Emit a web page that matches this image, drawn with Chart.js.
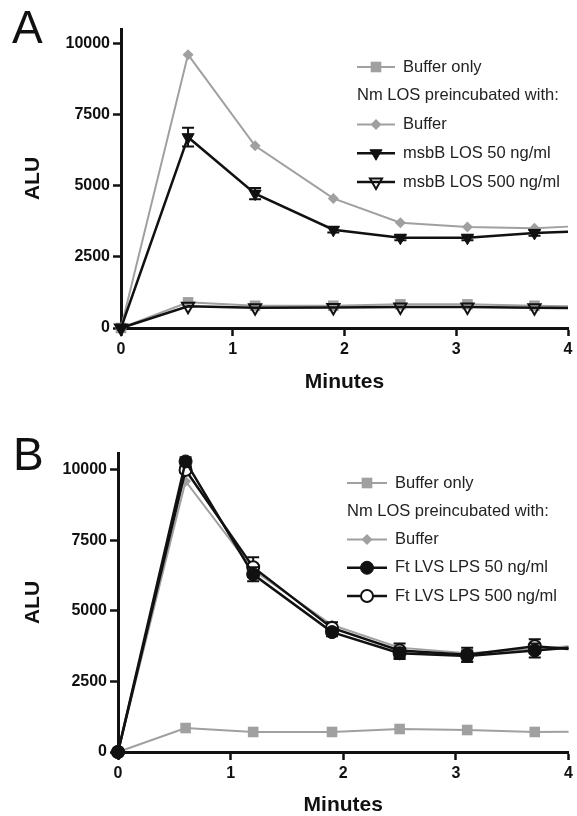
<!DOCTYPE html>
<html>
<head>
<meta charset="utf-8">
<script src="https://cdn.jsdelivr.net/npm/chart.js@4.4.0/dist/chart.umd.min.js"></script>
<style>
	body { margin: 0; background: #fff; width: 577px; height: 816px; overflow: hidden; }
	.panel { position: absolute; left: 0; width: 577px; }
	#panelA { top: 0; height: 400px; }
	#panelB { top: 400px; height: 416px; }
</style>
</head>
<body>
<div class="panel" id="panelA"><canvas id="chartA"></canvas></div>
<div class="panel" id="panelB"><canvas id="chartB"></canvas></div>
<script>
// sampling times (min); last entry is where the traces leave the plot at 4 min
const minutes = [0, 0.6, 1.2, 1.9, 2.5, 3.1, 3.7, 4];
const yTicks = [0, 2500, 5000, 7500, 10000];

// panel A
const bufferOnlyA = [0, 900, 780, 780, 830, 830, 780, 760];
const bufferA = [0, 9600, 6400, 4550, 3700, 3550, 3500, 3560];
const msbB50A = [0, 6700, 4720, 3450, 3170, 3170, 3340, 3380];
const msbB50ErrA = [0, 330, 200, 100, 90, 90, 100, 0];
const msbB500A = [0, 760, 710, 720, 740, 740, 710, 700];
const legendA = ['Buffer only', 'Nm LOS preincubated with:', 'Buffer', 'msbB LOS 50 ng/ml', 'msbB LOS 500 ng/ml'];

// panel B
const bufferOnlyB = [0, 850, 710, 710, 815, 780, 710, 720];
const bufferB = [0, 9600, 6450, 4500, 3700, 3500, 3650, 3750];
const ftLps50B = [0, 10300, 6300, 4250, 3500, 3400, 3600, 3700];
const ftLps50ErrB = [0, 150, 250, 150, 200, 200, 250, 0];
const ftLps500B = [0, 10000, 6550, 4400, 3600, 3450, 3750, 3650];
const ftLps500ErrB = [0, 100, 350, 200, 250, 250, 250, 0];
const legendB = ['Buffer only', 'Nm LOS preincubated with:', 'Buffer', 'Ft LVS LPS 50 ng/ml', 'Ft LVS LPS 500 ng/ml'];

const FONT = "'Liberation Sans', Arial, Helvetica, sans-serif";
const GRAY = '#a0a0a0';
const BLACK = '#111';

function series(label, values, st, errors){
	const last = minutes.length - 1;
	return {
		label: label,
		data: minutes.map((m, i) => ({x: m, y: values[i]})),
		errors: errors,
		borderColor: st.color,
		borderWidth: st.lineWidth,
		pointStyle: st.style,
		pointRotation: st.rotation || 0,
		markerRadius: st.radius,
		pointRadius: c => c.dataIndex < last ? st.radius : 0,
		pointBackgroundColor: st.fill,
		pointBorderColor: st.color,
		pointBorderWidth: st.pointBorder,
		tension: 0,
		order: st.order,
		clip: false
	}
}

const sqStyle = {color: GRAY, lineWidth: 2, style: 'rect', radius: 7.5, fill: GRAY, pointBorder: 0, order: 4}
const diaStyle = {color: GRAY, lineWidth: 2, style: 'rectRot', radius: 5.5, fill: GRAY, pointBorder: 0, order: 3}

// error bars drawn just before their own dataset, so markers sit on top
const errorBars = {
	id: 'errorBars',
	beforeDatasetDraw(chart, args){
		const ds = chart.data.datasets[args.index]
		if(!ds.errors) return
		const ctx = chart.ctx
		const ys = chart.scales.y
		ctx.save()
		ctx.strokeStyle = ds.borderColor
		ctx.lineWidth = 2
		args.meta.data.forEach((pt, j) => {
			const e = ds.errors[j]
			if(!e) return
			const v = ds.data[j].y
			const t = ys.getPixelForValue(v + e)
			const b = ys.getPixelForValue(v - e)
			ctx.beginPath()
			ctx.moveTo(pt.x, t); ctx.lineTo(pt.x, b)
			ctx.moveTo(pt.x - 6, t); ctx.lineTo(pt.x + 6, t)
			ctx.moveTo(pt.x - 6, b); ctx.lineTo(pt.x + 6, b)
			ctx.stroke()
		})
		ctx.restore()
	}
}

// legend with a header row, plus the panel letter
const panelLegend = {
	id: 'panelLegend',
	afterDraw(chart, args, opts){
		const ctx = chart.ctx
		ctx.save()
		ctx.fillStyle = BLACK
		ctx.font = '46px ' + FONT
		ctx.textBaseline = 'alphabetic'
		ctx.fillText(opts.letter, opts.letterX, opts.letterY)
		ctx.font = '16.5px ' + FONT
		ctx.textBaseline = 'middle'
		opts.rows.forEach((txt, i) => {
			const y = opts.y0 + i * opts.step
			const ds = chart.data.datasets.find(d => d.label == txt)
			if(!ds){
				ctx.fillStyle = '#222'
				ctx.fillText(txt, opts.x, y)
				return
			}
			ctx.strokeStyle = ds.borderColor
			ctx.lineWidth = ds.borderWidth
			ctx.beginPath()
			ctx.moveTo(opts.x, y); ctx.lineTo(opts.x + opts.lineLen, y)
			ctx.stroke()
			ctx.fillStyle = ds.pointBackgroundColor
			ctx.strokeStyle = ds.pointBorderColor
			ctx.lineWidth = ds.pointBorderWidth
			Chart.helpers.drawPoint(ctx, {
				pointStyle: ds.pointStyle,
				rotation: ds.pointRotation,
				radius: ds.markerRadius,
				borderWidth: ds.pointBorderWidth
			}, opts.x + opts.lineLen / 2, y)
			ctx.fillStyle = '#222'
			ctx.fillText(txt, opts.x + opts.lineLen + 8, y)
		})
		ctx.restore()
	}
}

function scales(yMax, yW, xH, xTitlePad){
	const tickFont = {family: FONT, size: 16, weight: 'bold'}
	const titleFont = {family: FONT, size: 21, weight: 'bold', lineHeight: 1}
	return {
		x: {
			type: 'linear', min: 0, max: 4,
			ticks: {stepSize: 1, color: BLACK, font: tickFont, padding: 4},
			grid: {drawOnChartArea: false, tickLength: 8, tickWidth: 2.5, tickColor: BLACK},
			border: {color: BLACK, width: 3},
			title: {display: true, text: 'Minutes', color: BLACK, font: titleFont, padding: {top: 0, bottom: xTitlePad}},
			afterFit: s => { s.height = xH }
		},
		y: {
			min: 0, max: yMax,
			afterBuildTicks: s => { s.ticks = yTicks.map(v => ({value: v})) },
			ticks: {color: BLACK, font: tickFont, padding: 3, callback: v => String(v)},
			grid: {drawOnChartArea: false, tickLength: 8, tickWidth: 2.5, tickColor: BLACK},
			border: {color: BLACK, width: 3},
			title: {display: true, text: 'ALU', color: BLACK, font: titleFont, padding: {top: 22.5, bottom: 0}},
			afterFit: s => { s.width = yW }
		}
	}
}

const chartA = new Chart('chartA', {
	type: 'line',
	data: {
		datasets: [
			series('Buffer only', bufferOnlyA, sqStyle),
			series('Buffer', bufferA, diaStyle),
			series('msbB LOS 50 ng/ml', msbB50A, {color: BLACK, lineWidth: 2.5, style: 'triangle', rotation: 180, radius: 7, fill: BLACK, pointBorder: 1, order: 2}, msbB50ErrA),
			series('msbB LOS 500 ng/ml', msbB500A, {color: BLACK, lineWidth: 2.5, style: 'triangle', rotation: 180, radius: 7, fill: 'rgba(255,255,255,0)', pointBorder: 2, order: 1})
		]
	},
	options: {
		responsive: true,
		maintainAspectRatio: false,
		animation: false,
		events: [],
		layout: {padding: {left: 0, right: 4, top: 29, bottom: 0}},
		scales: scales(10500, 121, 72, 7.5),
		plugins: {
			legend: {display: false},
			tooltip: {enabled: false},
			panelLegend: {letter: 'A', letterX: 12, letterY: 43, rows: legendA, x: 357, lineLen: 38, y0: 67, step: 28.75}
		}
	},
	plugins: [errorBars, panelLegend]
});

const chartB = new Chart('chartB', {
	type: 'line',
	data: {
		datasets: [
			series('Buffer only', bufferOnlyB, sqStyle),
			series('Buffer', bufferB, diaStyle),
			series('Ft LVS LPS 50 ng/ml', ftLps50B, {color: BLACK, lineWidth: 2.5, style: 'circle', radius: 6.5, fill: BLACK, pointBorder: 1, order: 1}, ftLps50ErrB),
			series('Ft LVS LPS 500 ng/ml', ftLps500B, {color: BLACK, lineWidth: 2.5, style: 'circle', radius: 6, fill: '#fff', pointBorder: 2, order: 2}, ftLps500ErrB)
		]
	},
	options: {
		responsive: true,
		maintainAspectRatio: false,
		animation: false,
		events: [],
		layout: {padding: {left: 0, right: 4, top: 53, bottom: 0}},
		scales: scales(10600, 118, 64, 0),
		plugins: {
			legend: {display: false},
			tooltip: {enabled: false},
			panelLegend: {letter: 'B', letterX: 13, letterY: 70, rows: legendB, x: 347, lineLen: 40, y0: 83, step: 28.25}
		}
	},
	plugins: [errorBars, panelLegend]
});
</script>
</body>
</html>
